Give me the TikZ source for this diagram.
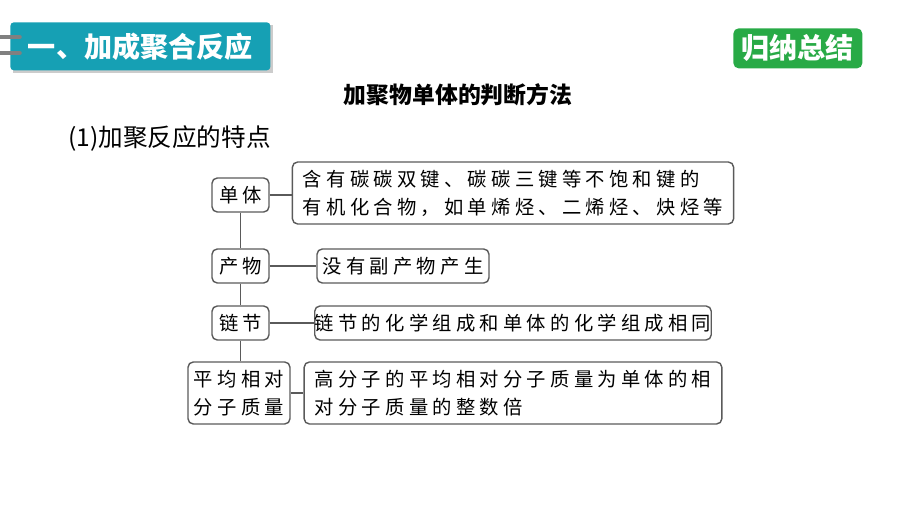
\documentclass[tikz,border=0pt]{standalone}
\usepackage{fontspec}
\setmainfont{Noto Sans CJK SC}
\newfontfamily\cjkwide[LetterSpace=22]{Noto Sans CJK SC}
\usetikzlibrary{positioning}
\definecolor{tealbar}{RGB}{22,160,180}
\definecolor{greenbar}{RGB}{40,170,70}
\definecolor{linegray}{RGB}{90,90,90}
\tikzset{
  itembox/.style={draw=linegray, rounded corners=3pt, thick, font=\cjkwide\fontsize{11}{16}\selectfont, align=left, inner sep=0pt},
  link/.style={draw=linegray, thick}
}
\begin{document}
\begin{tikzpicture}[x=0.02cm, y=-0.02cm]
  \useasboundingbox (0,0) rectangle (900,506);
  % header banners
  \fill[gray!40] (13,25) rectangle (273,73);
  \node[fill=tealbar, minimum width=260*0.02cm, minimum height=48*0.02cm, anchor=north west, rounded corners=2pt, inner sep=0pt,
        text=white, font=\bfseries\fontsize{16}{18}\selectfont] (banner) at (10,22) {一、加成聚合反应};
  \draw[gray, line width=2pt, line cap=round] (0,37) -- (20,37) (0,53) -- (20,53);
  \node[fill=greenbar, rounded corners=3pt, minimum width=129*0.02cm, minimum height=40*0.02cm, anchor=north west, inner sep=0pt,
        text=white, font=\bfseries\fontsize{16}{18}\selectfont] (summary) at (733,28) {归纳总结};
  \node[font=\bfseries\fontsize{13}{15}\selectfont] (title) at (458,95) {加聚物单体的判断方法};
  \node[anchor=west, font=\fontsize{14}{16}\selectfont] (head) at (62,138) {(1)加聚反应的特点};

  % left boxes
  \node[itembox, minimum width=57*0.02cm, minimum height=34*0.02cm] (mono) at (240.5,195) {单体};
  \node[itembox, minimum width=57*0.02cm, minimum height=34*0.02cm] (prod) at (240.5,266) {产物};
  \node[itembox, minimum width=57*0.02cm, minimum height=34*0.02cm] (unit) at (240.5,323) {链节};
  \node[itembox, minimum width=102*0.02cm, minimum height=62*0.02cm] (mass) at (239,393) {平均相对\\分子质量};

  % right boxes
  \node[itembox, minimum width=392*0.02cm, minimum height=62*0.02cm, inner xsep=6pt] (monotxt) at (513,193)
    {含有碳碳双键、碳碳三键等不饱和键的\\有机化合物，如单烯烃、二烯烃、炔烃等};
  \node[itembox, minimum width=172*0.02cm, minimum height=34*0.02cm] (prodtxt) at (403,266) {没有副产物产生};
  \node[itembox, minimum width=392*0.02cm, minimum height=34*0.02cm] (unittxt) at (513,323) {链节的化学组成和单体的化学组成相同};
  \node[itembox, minimum width=392*0.02cm, minimum height=62*0.02cm, inner xsep=6pt] (masstxt) at (513,393)
    {高分子的平均相对分子质量为单体的相\\对分子质量的整数倍};

  % connectors
  \draw[link] (mono) -- (prod) -- (unit) -- (unit |- mass.north);
  \draw[link] (mono) -- (monotxt.west |- mono);
  \draw[link] (prod) -- (prodtxt);
  \draw[link] (unit) -- (unittxt);
  \draw[link] (mass) -- (masstxt);
\end{tikzpicture}
\end{document}
